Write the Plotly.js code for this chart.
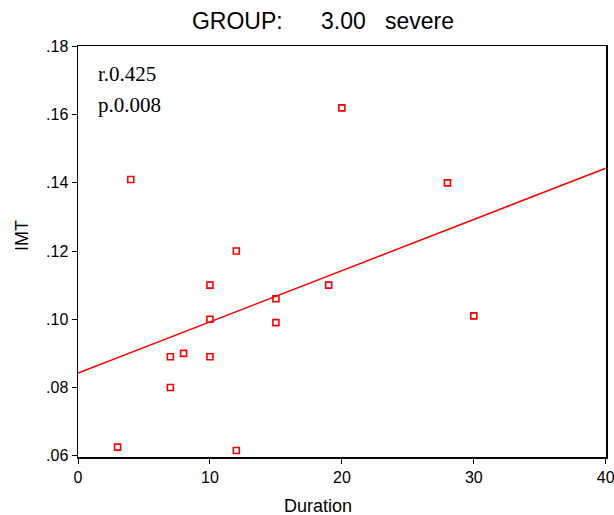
<!DOCTYPE html>
<html>
<head>
<meta charset="utf-8">
<script src="https://cdn.plot.ly/plotly-3.0.1.min.js"></script>
<style>html,body{margin:0;padding:0;background:#fff;}#chart{width:614px;height:515px;}</style>
</head>
<body>
<div id="chart"></div>
<script>
const duration = [3, 4, 7, 7, 8, 10, 10, 10, 12, 12, 15, 15, 19, 20, 28, 30];
const imt = [0.0625, 0.141, 0.089, 0.080, 0.090, 0.110, 0.100, 0.089, 0.120, 0.0615, 0.106, 0.099, 0.110, 0.162, 0.140, 0.101];
const fitX = [0, 40];
const fitY = [0.0842, 0.1443];
const yTickVals = [0.06, 0.08, 0.10, 0.12, 0.14, 0.16, 0.18];
const yTickText = ['.06', '.08', '.10', '.12', '.14', '.16', '.18'];
const xTickVals = [0, 10, 20, 30, 40];
const titleText = 'GROUP:      3.00   severe';
const statLines = ['r.0.425', 'p.0.008'];

const red = '#ff0000';
const traces = [
  {x: fitX, y: fitY, mode: 'lines', line: {color: red, width: 1.5}, hoverinfo: 'skip', cliponaxis: false},
  {x: duration, y: imt, mode: 'markers', marker: {symbol: 'square-open', size: 6, color: red, line: {color: red, width: 1.6}}}
];
const font = 'Arial, "Liberation Sans", sans-serif';
const layout = {
  width: 614, height: 515,
  margin: {l: 78, r: 8, t: 46, b: 58},
  paper_bgcolor: '#fff', plot_bgcolor: '#fff',
  showlegend: false,
  title: {text: titleText.replace(/ /g, '&nbsp;'), font: {family: font, size: 23, color: '#000'}, x: 0.464, xanchor: 'center', y: 1 - 21/515, yanchor: 'middle', yref: 'container', xref: 'paper'},
  xaxis: {range: [0, 40.02], tickvals: xTickVals, ticks: 'outside', ticklen: 5, tickwidth: 1, tickcolor: '#000',
          showline: true, linecolor: '#000', linewidth: 1.5, mirror: true, showgrid: false, zeroline: false,
          ticklabeloverflow: 'allow',
          tickfont: {family: font, size: 16, color: '#000'}},
  yaxis: {range: [0.0596, 0.18015], tickvals: yTickVals, ticktext: yTickText, ticks: 'outside', ticklen: 5, tickwidth: 1, tickcolor: '#000',
          showline: true, linecolor: '#000', linewidth: 1.5, mirror: true, showgrid: false, zeroline: false,
          ticklabeloverflow: 'allow',
          tickfont: {family: font, size: 16, color: '#000'}},
  annotations: [
    {text: 'Duration', xref: 'paper', yref: 'paper', x: (318 - 78) / 528, y: -49 / 411, xanchor: 'center', yanchor: 'middle', showarrow: false, font: {family: font, size: 18, color: '#000'}},
    {text: 'IMT', xref: 'paper', yref: 'paper', x: (22 - 78) / 528, y: (457 - 236) / 411, xanchor: 'center', yanchor: 'middle', textangle: -90, showarrow: false, font: {family: font, size: 18, color: '#000'}},
    {text: statLines[0], xref: 'paper', yref: 'paper', x: (96 - 78) / 528, y: (457 - 74) / 411, xanchor: 'left', yanchor: 'middle', showarrow: false, font: {family: '"Liberation Serif", "Times New Roman", serif', size: 21, color: '#000'}},
    {text: statLines[1], xref: 'paper', yref: 'paper', x: (96 - 78) / 528, y: (457 - 105) / 411, xanchor: 'left', yanchor: 'middle', showarrow: false, font: {family: '"Liberation Serif", "Times New Roman", serif', size: 21, color: '#000'}}
  ]
};
Plotly.newPlot('chart', traces, layout, {displayModeBar: false, staticPlot: true});
</script>
</body>
</html>
